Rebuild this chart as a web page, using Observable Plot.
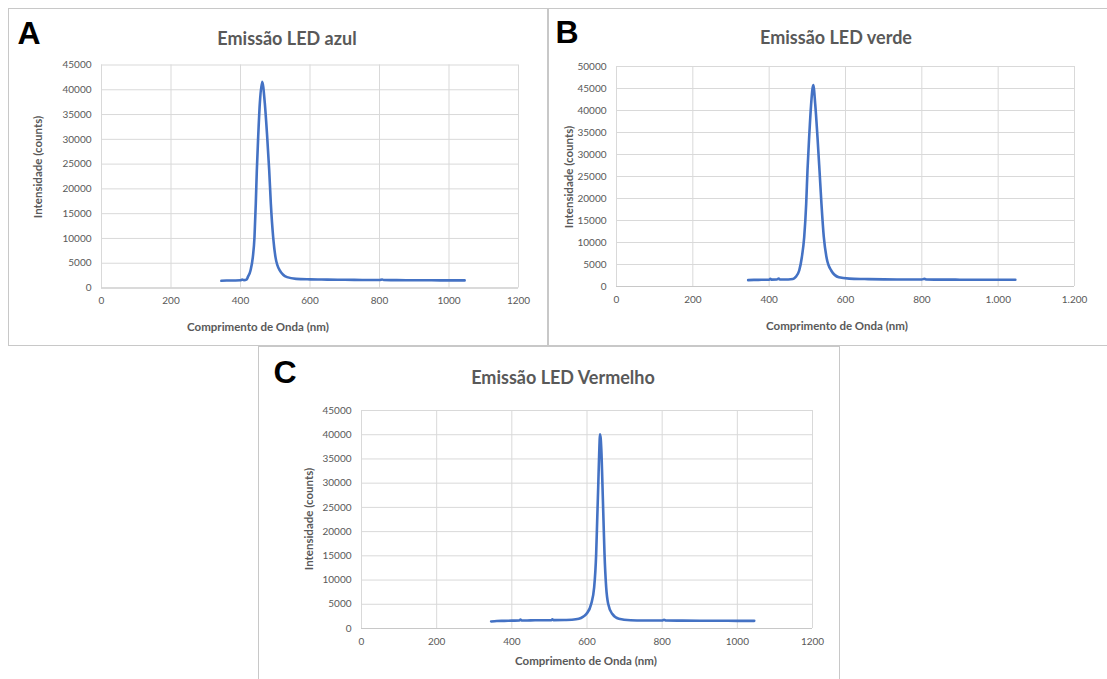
<!DOCTYPE html>
<html>
<head>
<meta charset="utf-8">
<script src="https://cdn.jsdelivr.net/npm/d3@7"></script>
<script src="https://cdn.jsdelivr.net/npm/@observablehq/plot@0.6"></script>
<style>
html,body{margin:0;padding:0;background:#fff;}
#root{position:relative;width:1107px;height:679px;overflow:hidden;background:#fff;font-family:Lato,"Open Sans",sans-serif;}
.box{position:absolute;border:1px solid #c8c8c8;box-sizing:border-box;background:#fff;}
.abs{position:absolute;white-space:nowrap;transform:translate(-50%,-50%);line-height:1;}
.letter{font-family:"Liberation Sans",Arial,sans-serif;font-weight:700;font-size:32px;color:#000;}
.title{font-weight:700;font-size:18px;color:#595959;}
.axt{font-weight:700;font-size:11.5px;color:#595959;}
.rot{transform:translate(-50%,-50%) rotate(-90deg);}
#root svg{position:absolute;}
</style>
</head>
<body>
<div id="root"></div>
<script>
// ---- data ----
const letters = ["A", "B", "C"];
const titles = ["Emissão LED azul", "Emissão LED verde", "Emissão LED Vermelho"];
const xAxisTitle = "Comprimento de Onda (nm)";
const yAxisTitle = "Intensidade (counts)";

const xTicks = [0, 200, 400, 600, 800, 1000, 1200];
const xTickLabelsA = ["0", "200", "400", "600", "800", "1000", "1200"];
const xTickLabelsB = ["0", "200", "400", "600", "800", "1.000", "1.200"];
const xTickLabelsC = ["0", "200", "400", "600", "800", "1000", "1200"];
const yTicks45 = [0, 5000, 10000, 15000, 20000, 25000, 30000, 35000, 40000, 45000];
const yTicks50 = [0, 5000, 10000, 15000, 20000, 25000, 30000, 35000, 40000, 45000, 50000];

const azulNm =     [345, 360, 380, 400, 405, 410, 418, 421, 428.8, 435.5, 440.3, 444, 447, 450.9, 455.6, 462.4, 470, 476.8, 482.6, 487.3, 494, 500.7, 513, 534, 560, 600, 650, 700, 750, 800, 808, 812, 850, 900, 950, 1000, 1045];
const azulCounts = [1450, 1500, 1520, 1550, 1700, 1580, 1750, 2190, 3540, 6230, 10280, 17030, 23770, 30500, 37250, 41630, 37250, 30500, 23770, 17030, 10280, 6230, 3540, 2190, 1850, 1750, 1700, 1650, 1620, 1600, 1720, 1600, 1580, 1560, 1550, 1540, 1530];

const verdeNm =     [345, 360, 380, 400, 403, 406, 420, 425, 428, 450, 462, 469, 478.7, 485.6, 491.8, 497, 500.4, 504.8, 510, 515.5, 520.6, 526.6, 531.9, 537, 543.2, 550.2, 562.5, 582.5, 610, 650, 700, 750, 800, 807, 812, 850, 900, 950, 1000, 1045];
const verdeCounts = [1450, 1500, 1520, 1550, 1750, 1560, 1580, 1800, 1580, 1600, 1700, 2110, 3640, 6660, 11210, 18790, 26360, 33940, 41520, 45800, 41520, 33940, 26360, 18790, 11210, 6660, 3640, 2110, 1800, 1700, 1620, 1600, 1580, 1750, 1580, 1560, 1550, 1540, 1530, 1520];

const vermelhoNm =     [345, 360, 380, 400, 420, 423, 426, 450, 480, 505, 508, 511, 540, 560, 578.3, 590, 598.7, 611.2, 619.1, 624.4, 627.1, 629.8, 632.4, 634.8, 638.6, 641.3, 643.9, 646.6, 651, 656.3, 667, 684.6, 716, 750, 800, 805, 810, 850, 900, 950, 1000, 1045];
const vermelhoCounts = [1450, 1550, 1580, 1620, 1650, 1850, 1650, 1680, 1700, 1700, 1900, 1720, 1750, 1800, 2000, 2450, 3030, 5090, 8530, 15410, 22290, 29170, 36060, 40100, 36060, 29170, 22290, 15410, 8530, 5090, 3030, 2000, 1700, 1650, 1650, 1800, 1650, 1620, 1600, 1600, 1580, 1580];

// ---- layout ----
const root = document.getElementById("root");
function el(cls, text, x, y) {
  const d = document.createElement("div");
  d.className = cls;
  d.textContent = text;
  d.style.left = x + "px";
  d.style.top = y + "px";
  root.appendChild(d);
  return d;
}

const panels = [
  {box: {x: 8, y: 8, w: 540, h: 338}, plot: {l: 101, r: 518, t: 64.5, b: 287.5},
   nm: azulNm, counts: azulCounts, yTicks: yTicks45, yMax: 45000, xLabels: xTickLabelsA,
   letter: [29, 33], title: [287, 38], xt: [258, 327], yt: [37.5, 167]},
  {box: {x: 548, y: 8, w: 562, h: 338}, plot: {l: 616, r: 1074, t: 66, b: 286},
   nm: verdeNm, counts: verdeCounts, yTicks: yTicks50, yMax: 50000, xLabels: xTickLabelsB,
   letter: [567, 32], title: [836, 37], xt: [837, 326], yt: [569, 176.5]},
  {box: {x: 258, y: 346, w: 582, h: 340}, plot: {l: 361, r: 812, t: 410, b: 628},
   nm: vermelhoNm, counts: vermelhoCounts, yTicks: yTicks45, yMax: 45000, xLabels: xTickLabelsC,
   letter: [285, 372], title: [563, 377], xt: [586, 661], yt: [309, 519]}
];

panels.forEach((p, k) => {
  const b = document.createElement("div");
  b.className = "box";
  Object.assign(b.style, {left: p.box.x + "px", top: p.box.y + "px", width: p.box.w + "px", height: p.box.h + "px"});
  root.appendChild(b);

  const data = p.nm.map((x, i) => ({nm: x, c: p.counts[i]}));
  const xLab = new Map(xTicks.map((t, i) => [t, p.xLabels[i]]));
  const svg = Plot.plot({
    width: p.box.w,
    height: p.box.h,
    marginLeft: p.plot.l - p.box.x,
    marginRight: p.box.x + p.box.w - p.plot.r,
    marginTop: p.plot.t - p.box.y,
    marginBottom: p.box.y + p.box.h - p.plot.b,
    style: {fontFamily: "Lato, 'Open Sans', sans-serif", fontSize: "10px", color: "#595959", background: "transparent", overflow: "visible"},
    x: {domain: [0, 1200]},
    y: {domain: [0, p.yMax]},
    marks: [
      Plot.gridX(xTicks, {stroke: "#d9d9d9", strokeOpacity: 1, strokeWidth: 1}),
      Plot.gridY(p.yTicks, {stroke: "#d9d9d9", strokeOpacity: 1, strokeWidth: 1}),
      Plot.ruleY([0], {stroke: "#c8c8c8", strokeWidth: 1}),
      Plot.axisX(xTicks, {tickSize: 0, tickPadding: 9, tickFormat: d => xLab.get(d), label: null, fill: "#595959"}),
      Plot.axisY(p.yTicks, {tickSize: 0, tickPadding: 10, tickFormat: d => String(d), label: null, fill: "#595959"}),
      Plot.line(data, {x: "nm", y: "c", stroke: "#4472c4", strokeWidth: 2.6, curve: "monotone-x", strokeLinejoin: "round"})
    ]
  });
  svg.style.left = p.box.x + "px";
  svg.style.top = p.box.y + "px";
  root.appendChild(svg);

  el("abs letter", letters[k], p.letter[0], p.letter[1]);
  el("abs title", titles[k], p.title[0], p.title[1]);
  el("abs axt", xAxisTitle, p.xt[0], p.xt[1]);
  el("abs axt rot", yAxisTitle, p.yt[0], p.yt[1]);
});
</script>
</body>
</html>
